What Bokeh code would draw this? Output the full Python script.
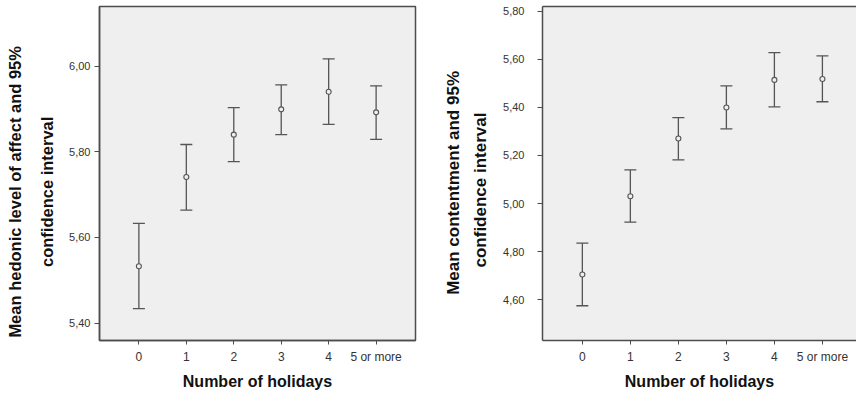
from bokeh.plotting import figure
from bokeh.models import (ColumnDataSource, Whisker, TeeHead, FixedTicker,
                          CustomJSTickFormatter, LinearAxis, Range1d)
from bokeh.layouts import row
from bokeh.embed import file_html
from bokeh.resources import INLINE

# ---- data ----
categories = ["0", "1", "2", "3", "4", "5 or more"]
x_pos = [0, 1, 2, 3, 4, 5]

hedonic_mean = [5.533, 5.741, 5.840, 5.899, 5.940, 5.892]
hedonic_lower = [5.434, 5.664, 5.777, 5.840, 5.864, 5.829]
hedonic_upper = [5.633, 5.817, 5.903, 5.956, 6.017, 5.954]

content_mean = [4.704, 5.030, 5.271, 5.400, 5.515, 5.519]
content_lower = [4.574, 4.922, 5.182, 5.311, 5.403, 5.424]
content_upper = [4.835, 5.140, 5.358, 5.490, 5.629, 5.615]

hedonic_ticks = [5.4, 5.6, 5.8, 6.0]
content_ticks = [4.6, 4.8, 5.0, 5.2, 5.4, 5.6, 5.8]

x_title = "Number of holidays"
hedonic_title = ["Mean hedonic level of affect and 95%", "confidence interval"]
content_title = ["Mean contentment and 95%", "confidence interval"]

FONT = "Liberation Sans"
FRAME = "#4d4d4d"
BG = "#efefef"
NBSP = "\u00a0"


def make_chart(mean, lower, upper, ticks, ytitle, pads, width, xr, yr,
               border_left, border_right, ylabel_standoff, ytitle_standoff,
               ytitle_size, ytitle_lh, boxed):
    p = figure(width=width, height=393, output_backend="svg",
               toolbar_location=None, x_range=Range1d(*xr), y_range=Range1d(*yr),
               min_border_left=border_left, min_border_right=border_right,
               min_border_top=6, min_border_bottom=53,
               background_fill_color=BG, border_fill_color="white")
    p.grid.visible = False
    xa = p.below[0]
    ya = p.left[0]
    if boxed:
        p.outline_line_color = FRAME
        p.outline_line_width = 1.5
    else:
        p.outline_line_color = None
        top = LinearAxis(ticker=FixedTicker(ticks=[]), axis_line_color=FRAME,
                         axis_line_width=1.5, major_tick_line_color=None,
                         minor_tick_line_color=None, major_label_text_font_size="0px",
                         major_label_standoff=0)
        p.add_layout(top, "above")

    src = ColumnDataSource(dict(x=x_pos, mean=mean, lower=lower, upper=upper))
    w = Whisker(base="x", lower="lower", upper="upper", source=src,
                line_color="#555555", line_width=1.3,
                upper_head=TeeHead(size=12, line_color="#555555", line_width=1.3),
                lower_head=TeeHead(size=12, line_color="#555555", line_width=1.3))
    p.add_layout(w)
    p.scatter("x", "mean", source=src, size=5, marker="circle",
              line_color="#555555", fill_color=BG, line_width=1.1)

    # x axis
    xa.ticker = FixedTicker(ticks=x_pos)
    xa.formatter = CustomJSTickFormatter(args=dict(labels=categories),
                                         code="return labels[Math.round(tick)];")
    xa.minor_tick_line_color = None
    xa.major_tick_in = 0
    xa.major_tick_out = 4
    xa.major_tick_line_color = FRAME
    xa.axis_line_color = FRAME
    xa.axis_line_width = 1.5
    xa.major_label_standoff = 5
    xa.major_label_text_font = FONT
    xa.major_label_text_font_size = "12px"
    xa.major_label_text_color = "#333333"
    xa.axis_label = x_title
    xa.axis_label_text_font = FONT
    xa.axis_label_text_font_style = "bold"
    xa.axis_label_text_font_size = "16px"
    xa.axis_label_text_line_height = 1.0
    xa.axis_label_text_color = "#111111"
    xa.axis_label_standoff = 6

    # y axis
    ya.ticker = FixedTicker(ticks=ticks)
    ya.formatter = CustomJSTickFormatter(code="return tick.toFixed(2).replace('.', ',');")
    ya.minor_tick_line_color = None
    ya.major_tick_in = 0
    ya.major_tick_out = 5
    ya.major_tick_line_color = FRAME
    ya.axis_line_color = FRAME
    ya.axis_line_width = 1.5
    ya.major_label_standoff = ylabel_standoff
    ya.major_label_text_font = FONT
    ya.major_label_text_font_size = "11px"
    ya.major_label_text_color = "#333333"
    # the title lines sit lower than the frame centre in the original:
    # trailing no-break spaces shift each centred line downwards
    ya.axis_label = "\n".join(t + NBSP * n for t, n in zip(ytitle, pads))
    ya.axis_label_text_font = FONT
    ya.axis_label_text_font_style = "bold"
    ya.axis_label_text_font_size = ytitle_size
    ya.axis_label_text_line_height = ytitle_lh
    ya.axis_label_text_color = "#111111"
    ya.axis_label_standoff = ytitle_standoff
    return p


left = make_chart(hedonic_mean, hedonic_lower, hedonic_upper, hedonic_ticks,
                  hedonic_title, (8, 8), 430, (-0.83, 5.83), (5.3596, 6.139),
                  99, 15, 4, 10, "16.5px", 1.76, True)
right = make_chart(content_mean, content_lower, content_upper, content_ticks,
                   content_title, (4, 7), 426, (-0.83, 5.71), (4.4292, 5.8208),
                   112, 0, 13, 10, "17px", 1.41, False)

layout = row(left, right, spacing=0)
open("out.html", "w").write(file_html(layout, INLINE))
